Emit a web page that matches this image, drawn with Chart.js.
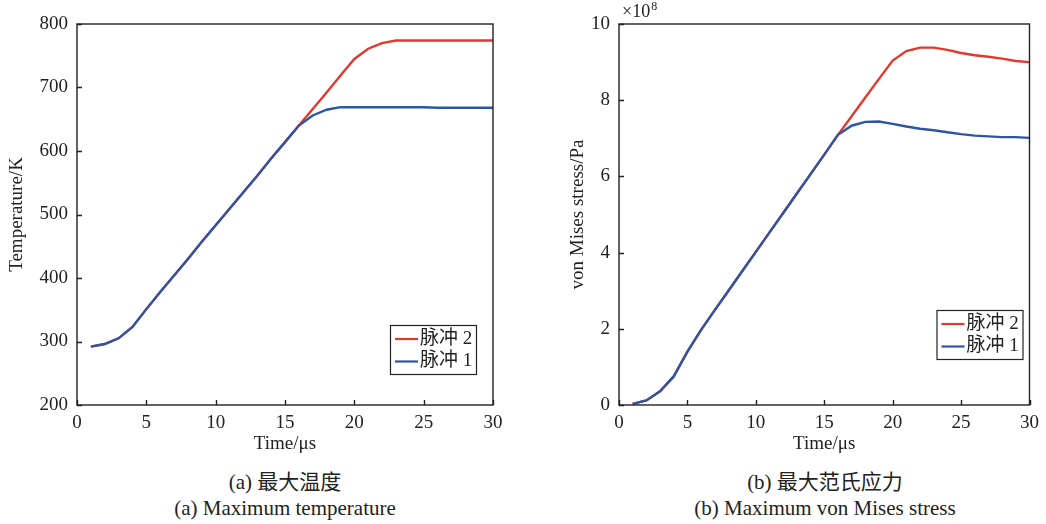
<!DOCTYPE html>
<html>
<head>
<meta charset="utf-8">
<script src="https://cdn.jsdelivr.net/npm/chart.js@4.4.1/dist/chart.umd.min.js"></script>
<style>
    body { margin: 0; background: #fff; }
    #wrap { position: relative; width: 1046px; height: 524px; background: #fff; overflow: hidden; }
    .box { position: absolute; top: 0; height: 460px; }
    .cap { position: absolute; width: 520px; text-align: center; color: #222;
           font-family: 'Liberation Serif', 'Noto Sans CJK SC', serif; font-size: 21px; line-height: 26px; }
</style>
</head>
<body>
<div id="wrap">
    <div class="box" style="left:0;width:520px"><canvas id="graficoTemp" width="520" height="460"></canvas></div>
    <div class="box" style="left:520px;width:526px"><canvas id="graficoStress" width="526" height="460"></canvas></div>
    <div class="cap" style="left:25px;top:469px">(a) 最大温度</div>
    <div class="cap" style="left:25px;top:495px">(a) Maximum temperature</div>
    <div class="cap" style="left:565px;top:469px">(b) 最大范氏应力</div>
    <div class="cap" style="left:565px;top:495px">(b) Maximum von Mises stress</div>
</div>
<script>
// tiempo en microsegundos
const tiempos = [1, 2, 3, 4, 5, 6, 7, 8, 9, 10, 11, 12, 13, 14, 15, 16, 17, 18, 19, 20, 21, 22, 23, 24, 25, 26, 27, 28, 29, 30];

// temperatura máxima (K)
const tempPulso1 = [292, 296, 305, 323, 351, 378, 404, 430, 457, 483, 509, 535, 561, 588, 614, 640,
    656, 665, 669, 669, 669, 669, 669, 669, 669, 668, 668, 668, 668, 668];
const tempPulso2 = [292, 296, 305, 323, 351, 378, 404, 430, 457, 483, 509, 535, 561, 588, 614, 640,
    666, 692, 719, 745, 761, 770, 774, 774, 774, 774, 774, 774, 774, 774];

// esfuerzo de von Mises máximo (x1e8 Pa)
const stressPulso1 = [0.03, 0.12, 0.36, 0.75, 1.40, 1.97, 2.49, 3.00, 3.51, 4.02, 4.53, 5.04, 5.55, 6.06, 6.57, 7.09,
    7.33, 7.43, 7.44, 7.38, 7.31, 7.25, 7.21, 7.16, 7.11, 7.07, 7.05, 7.03, 7.03, 7.01];
const stressPulso2 = [0.03, 0.12, 0.36, 0.75, 1.40, 1.97, 2.49, 3.00, 3.51, 4.02, 4.53, 5.04, 5.55, 6.06, 6.57, 7.09,
    7.58, 8.07, 8.56, 9.04, 9.29, 9.38, 9.38, 9.32, 9.24, 9.18, 9.14, 9.09, 9.03, 9.00];

const etiquetas = ['脉冲 1', '脉冲 2'];
const colores = ['#2d55a5', '#e5372c'];

const FUENTE = "'Liberation Serif', 'Noto Sans CJK SC', serif";
const TINTA = '#222';

function puntos(ys) {
    return tiempos.map(function (t, i) { return { x: t, y: ys[i] }; });
}

// marco, marcas interiores y leyenda dentro del área
const marcoPlugin = {
    id: 'marco',
    afterDraw: function (chart, args, opts) {
        const ctx = chart.ctx;
        const a = chart.chartArea;
        const sx = chart.scales.x;
        const sy = chart.scales.y;
        ctx.save();
        ctx.strokeStyle = TINTA;
        ctx.lineWidth = 1.4;
        ctx.strokeRect(a.left, a.top, a.right - a.left, a.bottom - a.top);
        ctx.beginPath();
        sx.ticks.forEach(function (t) {
            const px = Math.round(sx.getPixelForValue(t.value)) + 0.5;
            ctx.moveTo(px, a.bottom);
            ctx.lineTo(px, a.bottom - 5);
        });
        sy.ticks.forEach(function (t) {
            const py = Math.round(sy.getPixelForValue(t.value)) + 0.5;
            ctx.moveTo(a.left, py);
            ctx.lineTo(a.left + 5, py);
        });
        ctx.stroke();

        // leyenda: pulso 2 arriba, pulso 1 abajo
        const lx = a.right - opts.right - 86;
        const ly = a.bottom - opts.bottom - 49;
        ctx.fillStyle = '#fff';
        ctx.fillRect(lx, ly, 86, 49);
        ctx.lineWidth = 1.2;
        ctx.strokeRect(lx + 0.5, ly + 0.5, 86, 49);
        ctx.font = '19px ' + FUENTE;
        ctx.textBaseline = 'middle';
        const ds = chart.data.datasets.slice().reverse();
        ds.forEach(function (d, i) {
            const yy = ly + 14 + i * 22.5;
            ctx.strokeStyle = d.borderColor;
            ctx.lineWidth = 2.2;
            ctx.beginPath();
            ctx.moveTo(lx + 5, yy);
            ctx.lineTo(lx + 28, yy);
            ctx.stroke();
            ctx.fillStyle = TINTA;
            ctx.fillText(d.label, lx + 30, yy);
        });

        if (opts.exponente) {
            ctx.fillStyle = TINTA;
            ctx.textBaseline = 'alphabetic';
            ctx.font = '18px ' + FUENTE;
            ctx.fillText('×10', a.left + 3, a.top - 7);
            const w = ctx.measureText('×10').width;
            ctx.font = '12px ' + FUENTE;
            ctx.fillText('8', a.left + 4 + w, a.top - 14);
        }
        ctx.restore();
    }
};

function crear_grafico(id, serie1, serie2, cfg) {
    const ctx = document.getElementById(id).getContext('2d');
    new Chart(ctx, {
        type: 'line',
        data: {
            datasets: [{
                label: etiquetas[0],
                data: puntos(serie1),
                borderColor: colores[0],
                borderWidth: 2.4,
                pointRadius: 0,
                tension: 0
            }, {
                label: etiquetas[1],
                data: puntos(serie2),
                borderColor: colores[1],
                borderWidth: 2.4,
                pointRadius: 0,
                tension: 0
            }]
        },
        options: {
            responsive: false,
            animation: false,
            layout: { padding: { top: 24, right: cfg.padRight, left: 0, bottom: 0 } },
            scales: {
                x: {
                    type: 'linear',
                    min: 0,
                    max: 30,
                    grid: { display: false, drawTicks: false },
                    border: { display: false },
                    ticks: { stepSize: 5, padding: 7, color: TINTA, font: { family: FUENTE, size: 19 } },
                    title: {
                        display: true,
                        text: 'Time/μs',
                        color: TINTA,
                        font: { family: FUENTE, size: 19 },
                        padding: { top: 0, bottom: 5 }
                    },
                    afterFit: function (scale) { scale.height = 55; }
                },
                y: {
                    min: cfg.yMin,
                    max: cfg.yMax,
                    grid: { display: false, drawTicks: false },
                    border: { display: false },
                    ticks: { stepSize: cfg.yStep, padding: 9, color: TINTA, font: { family: FUENTE, size: 19 } },
                    title: {
                        display: true,
                        text: cfg.yTitulo,
                        color: TINTA,
                        font: { family: FUENTE, size: 19 },
                        padding: { top: cfg.yTituloPad, bottom: 0 }
                    },
                    afterFit: function (scale) { scale.width = cfg.yAncho; }
                }
            },
            plugins: {
                legend: { display: false },
                tooltip: { enabled: false },
                marco: { right: cfg.legRight, bottom: cfg.legBottom, exponente: cfg.exponente }
            }
        },
        plugins: [marcoPlugin]
    });
}

document.addEventListener('DOMContentLoaded', function () {
    crear_grafico('graficoTemp', tempPulso1, tempPulso2, {
        yMin: 200, yMax: 800, yStep: 100,
        yTitulo: 'Temperature/K', yTituloPad: 6, yAncho: 77,
        padRight: 27, legRight: 17, legBottom: 31, exponente: false
    });
    crear_grafico('graficoStress', stressPulso1, stressPulso2, {
        yMin: 0, yMax: 10, yStep: 2,
        yTitulo: 'von Mises stress/Pa', yTituloPad: 47, yAncho: 99,
        padRight: 14, legRight: 7, legBottom: 46, exponente: true
    });
});
</script>
</body>
</html>
